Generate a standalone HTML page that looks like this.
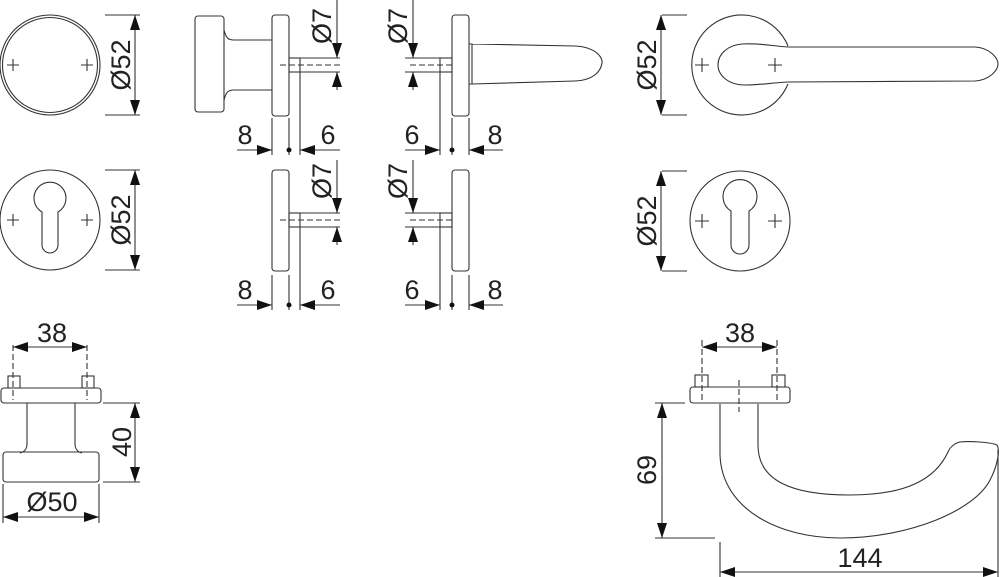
<!DOCTYPE html>
<html><head><meta charset="utf-8"><style>
html,body{margin:0;padding:0;background:#fff}
svg{display:block}
text{font-family:"Liberation Sans",sans-serif;font-size:27px;fill:#222}
</style></head><body>
<svg width="1000" height="577" viewBox="0 0 1000 577" xmlns="http://www.w3.org/2000/svg">
<defs>
<marker id="a" viewBox="0 0 15 10" refX="15" refY="5" markerWidth="15" markerHeight="10" markerUnits="userSpaceOnUse" orient="auto-start-reverse"><path d="M0,0 L15,5 L0,10 Z" fill="#111"/></marker>
</defs>
<g fill="none" stroke="#333" stroke-width="1.1">
<circle cx="50" cy="65" r="50"/><circle cx="50" cy="65" r="47.5"/>
<path d="M7,65h12M13,59v12M81,65h12M87,59v12"/>
<path d="M105,15h35M105,115h35"/>
<line x1="135" y1="15" x2="135" y2="115" marker-start="url(#a)" marker-end="url(#a)"/>
<circle cx="50" cy="220" r="50"/>
<path d="M42,212 A16,16 0 1 1 58,212 L58,245 A8,8 0 0 1 42,245 Z"/>
<path d="M7,220h12M13,214v12M81,220h12M87,214v12"/>
<path d="M105,170h35M105,270h35"/>
<line x1="135" y1="170" x2="135" y2="270" marker-start="url(#a)" marker-end="url(#a)"/>

<rect x="195" y="16" width="29" height="96" rx="3"/>
<path d="M224,30 C226,38 228,40 234,40 L272,40 M224,100 C226,92 228,90 234,90 L272,90"/>
<rect x="272" y="15" width="17" height="101" rx="3"/>
<rect x="289" y="58" width="11" height="14"/>
<path d="M280,65h60" stroke-dasharray="6,3"/>
<path d="M300,72v83M289,118v37M272,118v37M300,58h40M300,72h40"/>
<line x1="337" y1="0" x2="337" y2="58" marker-end="url(#a)"/>
<line x1="337" y1="90" x2="337" y2="72" marker-end="url(#a)"/>
<line x1="237" y1="150" x2="272" y2="150" marker-end="url(#a)"/>
<line x1="340" y1="150" x2="300" y2="150" marker-end="url(#a)"/>
<rect x="272" y="170" width="17" height="101" rx="3"/>
<rect x="289" y="213" width="11" height="14"/>
<path d="M280,220h60" stroke-dasharray="6,3"/>
<path d="M300,227v83M289,275v35M272,275v35M300,213h40M300,227h40"/>
<line x1="337" y1="160" x2="337" y2="213" marker-end="url(#a)"/>
<line x1="337" y1="245" x2="337" y2="227" marker-end="url(#a)"/>
<line x1="237" y1="305" x2="272" y2="305" marker-end="url(#a)"/>
<line x1="340" y1="305" x2="300" y2="305" marker-end="url(#a)"/>

<rect x="452" y="15" width="17" height="101" rx="3"/>
<rect x="440" y="58" width="12" height="14"/>
<path d="M410,65h45" stroke-dasharray="6,3"/>
<path d="M469,44h3v40h-3M472,44 L575,46 C595,47 603,57 602,63 C601,70 595,80 575,81 L472,84"/>
<path d="M440,72v83M452,118v37M469,118v37M405,58h35M405,72h35"/>
<line x1="413" y1="0" x2="413" y2="58" marker-end="url(#a)"/>
<line x1="413" y1="90" x2="413" y2="72" marker-end="url(#a)"/>
<line x1="405" y1="150" x2="440" y2="150" marker-end="url(#a)"/>
<line x1="503" y1="150" x2="469" y2="150" marker-end="url(#a)"/>
<rect x="452" y="170" width="17" height="101" rx="3"/>
<rect x="440" y="213" width="12" height="14"/>
<path d="M410,220h45" stroke-dasharray="6,3"/>
<path d="M440,227v83M452,275v35M469,275v35M405,213h35M405,227h35"/>
<line x1="413" y1="160" x2="413" y2="213" marker-end="url(#a)"/>
<line x1="413" y1="245" x2="413" y2="227" marker-end="url(#a)"/>
<line x1="405" y1="305" x2="440" y2="305" marker-end="url(#a)"/>
<line x1="503" y1="305" x2="469" y2="305" marker-end="url(#a)"/>

<path d="M788,46 A50,50 0 1 0 788,84"/>
<path d="M788,47 L975,47 C990,48 998,58 998,64 C998,70 990,80 975,81 L788,82 C770,83 760,85 745,85 C728,85 718,75 718,65 C718,54 728,45 742,44 C760,43 772,46 788,47 Z"/>
<path d="M695,65h14M702,58v14M768,65h14M775,58v14"/>
<path d="M662,15h25M662,115h25"/>
<line x1="661" y1="15" x2="661" y2="115" marker-start="url(#a)" marker-end="url(#a)"/>
<circle cx="740" cy="221" r="50"/>
<path d="M731,211 A17,17 0 1 1 749,211 L749,245 A9,9 0 0 1 731,245 Z"/>
<path d="M695,221h14M702,214v14M768,221h14M775,214v14"/>
<path d="M662,171h25M662,271h25"/>
<line x1="661" y1="171" x2="661" y2="271" marker-start="url(#a)" marker-end="url(#a)"/>

<rect x="1" y="388" width="100" height="15" rx="3"/>
<rect x="8" y="376" width="12" height="12"/>
<rect x="82" y="376" width="12" height="12"/>
<path d="M13,345v55M87,345v55" stroke-dasharray="6,3"/>
<line x1="13" y1="347" x2="87" y2="347" marker-start="url(#a)" marker-end="url(#a)"/>
<path d="M27,403v41 C27,449 24,452 20,453 M75,403v41 C75,449 78,452 82,453"/>
<rect x="3" y="452" width="96" height="30" rx="3"/>
<path d="M103,403h37M103,482h37"/>
<line x1="135" y1="403" x2="135" y2="482" marker-start="url(#a)" marker-end="url(#a)"/>
<path d="M3,484v39M99,484v39"/>
<line x1="3" y1="517" x2="99" y2="517" marker-start="url(#a)" marker-end="url(#a)"/>

<rect x="690" y="387" width="100" height="16" rx="3"/>
<rect x="695" y="375" width="13" height="12"/>
<rect x="772" y="375" width="13" height="12"/>
<path d="M702,340v60M777,340v60M739,380v32" stroke-dasharray="6,3"/>
<line x1="702" y1="347" x2="777" y2="347" marker-start="url(#a)" marker-end="url(#a)"/>
<path d="M720,404 L720,455 C722,510 780,538 840,538 C910,538 975,510 990,480 C998,465 1000,450 997,445 C990,442 970,441 960,442 C955,443 950,447 948,452 C935,480 905,495 850,495 C790,495 758,480 758,445 L758,404"/>
<path d="M655,403h30M655,538h60"/>
<line x1="662" y1="403" x2="662" y2="538" marker-start="url(#a)" marker-end="url(#a)"/>
<path d="M720,542v35M998,450v127"/>
<line x1="720" y1="572" x2="998" y2="572" marker-start="url(#a)" marker-end="url(#a)"/>
</g>
<circle cx="289" cy="150" r="2.5" fill="#111"/>
<circle cx="289" cy="305" r="2.5" fill="#111"/>
<circle cx="452" cy="150" r="2.5" fill="#111"/>
<circle cx="452" cy="305" r="2.5" fill="#111"/>
<g text-anchor="middle">
<text transform="translate(130,65) rotate(-90)">Ø52</text>
<text transform="translate(130,220) rotate(-90)">Ø52</text>
<text transform="translate(331,26) rotate(-90)">Ø7</text>
<text transform="translate(331,181) rotate(-90)">Ø7</text>
<text transform="translate(407,26) rotate(-90)">Ø7</text>
<text transform="translate(407,181) rotate(-90)">Ø7</text>
<text transform="translate(656,65) rotate(-90)">Ø52</text>
<text transform="translate(656,221) rotate(-90)">Ø52</text>
<text transform="translate(131,442) rotate(-90)">40</text>
<text transform="translate(656,470) rotate(-90)">69</text>
<text x="245" y="144">8</text><text x="328" y="144">6</text>
<text x="245" y="299">8</text><text x="328" y="299">6</text>
<text x="412" y="144">6</text><text x="495" y="144">8</text>
<text x="412" y="299">6</text><text x="495" y="299">8</text>
<text x="52" y="342">38</text>
<text x="740" y="342">38</text>
<text x="52" y="511">Ø50</text>
<text x="860" y="567">144</text>
</g>
</svg>
</body></html>
